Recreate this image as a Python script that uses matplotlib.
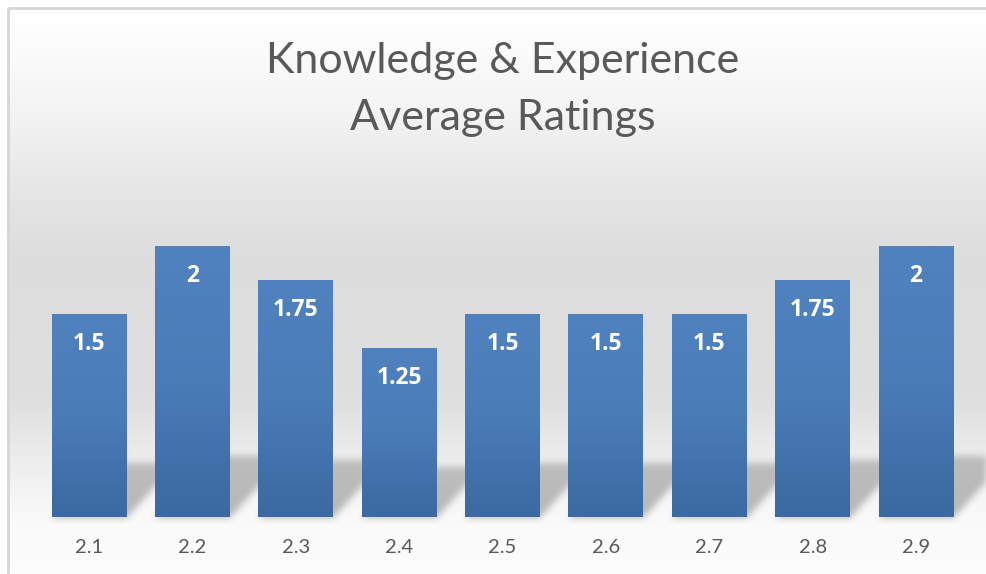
import numpy as np
import matplotlib
matplotlib.use("Agg")
import matplotlib.pyplot as plt
from matplotlib.colors import LinearSegmentedColormap

categories = ["2.1", "2.2", "2.3", "2.4", "2.5", "2.6", "2.7", "2.8", "2.9"]
values = [1.5, 2, 1.75, 1.25, 1.5, 1.5, 1.5, 1.75, 2]
value_labels = ["1.5", "2", "1.75", "1.25", "1.5", "1.5", "1.5", "1.75", "2"]
title_lines = ["Knowledge & Experience", "Average Ratings"]

W, H = 987, 574
DPI = 100
fig = plt.figure(figsize=(W / DPI, H / DPI), dpi=DPI)
fig.patch.set_facecolor("white")

# ---- background axes (full figure, pixel coords, y down) ----
bg = fig.add_axes([0, 0, 1, 1], zorder=0)
bg.set_xlim(0, W)
bg.set_ylim(H, 0)
bg.axis("off")

ys = np.arange(H)
stops_y = [0, 20, 120, 220, 260, 400, 460, 520, 574]
stops_v = [1.0, 1.0, 0.95, 0.885, 0.865, 0.875, 0.93, 0.98, 0.99]
col = np.interp(ys, stops_y, stops_v)
grad = np.repeat(col[:, None], W, axis=1)
img = np.dstack([grad, grad, grad])
img[:7, :, :] = 1.0
img[:, :7, :] = 1.0
bg.imshow(img, extent=(0, W, H, 0), aspect="auto", interpolation="bilinear", zorder=0)

# border
bg.plot([7.5, W], [7.5, 7.5], color="#d6d6d6", lw=2, solid_capstyle="butt", zorder=1)
bg.plot([7.5, 7.5], [7.5, H], color="#d6d6d6", lw=2, solid_capstyle="butt", zorder=1)

# ---- main axes ----
left_px, right_px = 37.3, 967.7
bottom_px, top_px = 517, 517 - 2.5 * 135.5
ax = fig.add_axes([left_px / W, (H - bottom_px) / H,
                   (right_px - left_px) / W, (bottom_px - top_px) / H], zorder=2)
ax.patch.set_alpha(0)
x = np.arange(len(categories))
ax.set_xlim(-0.5, len(categories) - 0.5)
ax.set_ylim(0, 2.5)
for s in ax.spines.values():
    s.set_visible(False)
ax.set_yticks([])
ax.set_xticks(x)
ax.set_xticklabels(categories, fontsize=14.5, color="#595959", family="Lato")
ax.tick_params(axis="x", length=0, pad=16)

bar_w = 0.725

# ---- shadows (rendered in pixel space from data transform) ----
fig.canvas.draw()
shadow = np.zeros((H, W))
YY, XX = np.mgrid[0:H, 0:W]
for xi, v in zip(x, values):
    (px0, py0) = ax.transData.transform((xi - bar_w / 2, 0))
    (px1, py1) = ax.transData.transform((xi + bar_w / 2, v))
    yb = H - py0
    hpx = py1 - py0
    s = 0.1 * hpx + 34
    dx = 0.9 * s
    t = yb - YY
    mask = (t >= 0) & (t <= s)
    shift = dx * t / s
    mask &= (XX >= px0 + shift) & (XX <= px1 + shift)
    shadow[mask] = np.maximum(shadow[mask], 1.0 - 0.2 * (t[mask] / s))

def box_blur(a, r):
    k = np.ones(2 * r + 1) / (2 * r + 1)
    a = np.apply_along_axis(lambda m: np.convolve(m, k, mode="same"), 0, a)
    a = np.apply_along_axis(lambda m: np.convolve(m, k, mode="same"), 1, a)
    return a

shadow = box_blur(box_blur(shadow, 4), 3)
rgba = np.zeros((H, W, 4))
rgba[..., 0:3] = 0.3
rgba[..., 3] = shadow * 0.38
bg.imshow(rgba, extent=(0, W, H, 0), aspect="auto", interpolation="bilinear", zorder=0.5)

# ---- bars with gradient ----
cmap = LinearSegmentedColormap.from_list("bar", ["#3b69a1", "#4a7cb8", "#4f82be"])
bars = ax.bar(x, values, width=bar_w, color="#4a7cb8", zorder=3)
for b, v in zip(bars, values):
    x0 = b.get_x()
    gr = np.linspace(0, 1, 256)[:, None]
    im = ax.imshow(gr, extent=(x0, x0 + bar_w, 0, v), origin="lower",
                   cmap=cmap, vmin=0, vmax=1, aspect="auto", zorder=3.5)
    im.set_clip_path(b)
ax.set_xlim(-0.5, len(categories) - 0.5)
ax.set_ylim(0, 2.5)

for xi, v, lab in zip(x, values, value_labels):
    ax.annotate(lab, (xi, v), xytext=(0, -30), textcoords="offset pixels",
                ha="center", va="center", color="white", fontsize=16.5,
                fontweight="bold", family="Open Sans", zorder=5)

fig.text(503 / W, 1 - 61 / H, title_lines[0], ha="center", va="center",
         fontsize=31, color="#595959", family="Lato")
fig.text(503 / W, 1 - 118 / H, title_lines[1], ha="center", va="center",
         fontsize=31, color="#595959", family="Lato")

fig.savefig("out.png", dpi=DPI)
